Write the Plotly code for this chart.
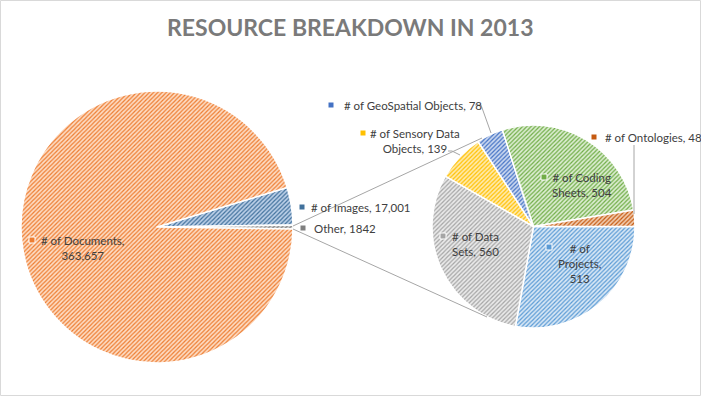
import plotly.graph_objects as go

W, H = 701, 396

# ---- data ----
main_labels = ["# of Images", "Other", "# of Documents"]
main_values = [17001, 1842, 363657]
main_colors = ["#41719C", "#7F7F7F", "#ED7D31"]
main_bg = ["#BCD0E8", "#D6D6D6", "#FDDCC4"]

sub_labels = ["# of Projects", "# of Data Sets", "# of Sensory Data Objects",
              "# of GeoSpatial Objects", "# of Coding Sheets", "# of Ontologies"]
sub_values = [513, 560, 139, 78, 504, 48]
sub_colors = ["#5B9BD5", "#A5A5A5", "#FFC000", "#4472C4", "#70AD47", "#C55A11"]
sub_bg = ["#D8E7F5", "#EAEAEA", "#FFEBAE", "#CBD8F0", "#DCEDD1", "#F1CCB0"]

title_text = "RESOURCE BREAKDOWN IN 2013"


def px(x):
    return x / W


def py(y):
    return 1 - y / H


def fmt(v):
    return f"{v:,}"


# ---- pies ----
tot = sum(main_values)
ang_img = main_values[0] / tot * 360
ang_oth = main_values[1] / tot * 360
rot_main = 90 - ang_img - ang_oth / 2

fig = go.Figure()
fig.add_trace(go.Pie(
    labels=main_labels, values=main_values, sort=False, direction="clockwise",
    rotation=rot_main, textinfo="none", hoverinfo="label+value",
    marker=dict(colors=main_colors, line=dict(color="white", width=1.5),
                pattern=dict(shape="/", fgcolor=main_colors, bgcolor=main_bg,
                             size=3, solidity=0.4, fillmode="replace")),
    domain=dict(x=[px(21), px(293)], y=[py(363), py(91)]),
    showlegend=False,
))
fig.add_trace(go.Pie(
    labels=sub_labels, values=sub_values, sort=False, direction="clockwise",
    rotation=90, textinfo="none", hoverinfo="label+value",
    marker=dict(colors=sub_colors, line=dict(color="white", width=1.5),
                pattern=dict(shape="/", fgcolor=sub_colors, bgcolor=sub_bg,
                             size=3, solidity=0.4, fillmode="replace")),
    domain=dict(x=[px(432), px(635)], y=[py(328), py(125)]),
    showlegend=False,
))

FONT = "Lato"
FS = 11.5
TC = "#404040"

annotations = []
shapes = []


def label(text, cx, cy, key_x, key_y, color, anchor="center"):
    annotations.append(dict(
        text=text, x=px(cx), y=py(cy), xref="paper", yref="paper",
        xanchor=anchor, yanchor="middle", showarrow=False, align="center",
        font=dict(family=FONT, size=FS, color=TC)))
    s = 3
    shapes.append(dict(type="rect", xref="paper", yref="paper",
                       x0=px(key_x - s), x1=px(key_x + s),
                       y0=py(key_y + s), y1=py(key_y - s),
                       fillcolor=color, line=dict(color="white", width=1)))


# main pie labels
label(f"{main_labels[0]}, {fmt(main_values[0])}", 309, 207, 302, 207, main_colors[0], "left")
label(f"{main_labels[1]}, {main_values[1]}", 312, 228, 303, 228, main_colors[1], "left")
label(f"{main_labels[2]},<br>{fmt(main_values[2])}", 82, 248, 32, 240, main_colors[2])

# sub pie labels
label("# of<br>Projects,<br>" + fmt(sub_values[0]), 579, 263, 549, 247, sub_colors[0])
label("# of Data<br>Sets, " + fmt(sub_values[1]), 475, 244, 443, 236, sub_colors[1])
label("# of Sensory Data<br>Objects, " + fmt(sub_values[2]), 415, 141, 363, 133, sub_colors[2])
label(f"{sub_labels[3]}, {fmt(sub_values[3])}", 342, 105, 331, 105, sub_colors[3], "left")
label("# of Coding<br>Sheets, " + fmt(sub_values[4]), 582, 185, 544, 177, sub_colors[4])
label(f"{sub_labels[5]}, {fmt(sub_values[5])}", 603, 137, 594, 137, sub_colors[5], "left")

# title
annotations.append(dict(
    text=f"<b>{title_text}</b>", x=px(350), y=py(27), xref="paper", yref="paper",
    xanchor="center", yanchor="middle", showarrow=False,
    font=dict(family=FONT, size=23, color="#7A7A7A")))

LC = "#A6A6A6"


def path(points):
    d = "M " + " L ".join(f"{px(x)},{py(y)}" for x, y in points)
    shapes.append(dict(type="path", path=d, xref="paper", yref="paper",
                       line=dict(color=LC, width=1)))


# connector lines between pies
path([(293, 226), (482, 138)])
path([(293, 229), (487, 317)])
# leader lines
path([(475, 105), (481, 105), (491, 133)])
path([(448, 151), (452, 151), (460, 155)])
path([(634, 145), (634, 214)])

# chart border
shapes.append(dict(type="rect", xref="paper", yref="paper", x0=0.0007, x1=0.9993,
                   y0=0.0013, y1=0.9987, line=dict(color="#D9D9D9", width=1),
                   fillcolor="rgba(0,0,0,0)"))

fig.update_layout(
    width=W, height=H, margin=dict(l=0, r=0, t=0, b=0),
    paper_bgcolor="white", plot_bgcolor="white",
    annotations=annotations, shapes=shapes,
)

fig.write_html("out.html", config={"displayModeBar": False},
               post_script="document.body.style.margin='0';document.body.style.overflow='hidden';")
